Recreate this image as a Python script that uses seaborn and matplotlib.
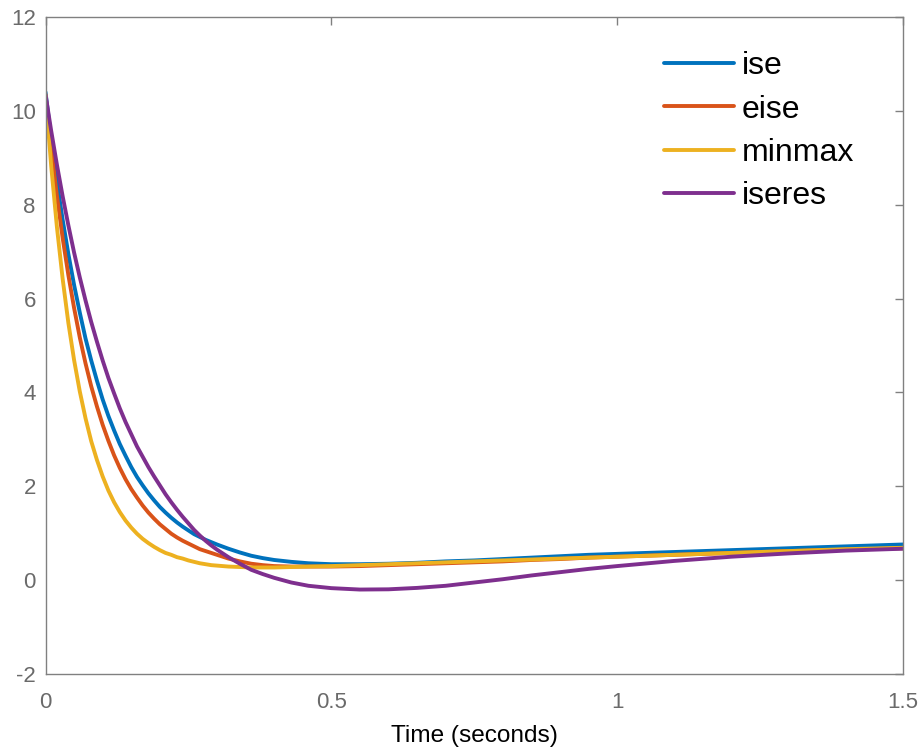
import numpy as np
import pandas as pd
import matplotlib
matplotlib.use("Agg")
import matplotlib.pyplot as plt
import seaborn as sns

# Sample times (seconds)
time = [0.00, 0.01, 0.02, 0.03, 0.04, 0.05, 0.06, 0.07, 0.08, 0.09,
        0.10, 0.11, 0.12, 0.13, 0.14, 0.15, 0.16, 0.17, 0.18, 0.19,
        0.20, 0.21, 0.22, 0.23, 0.24, 0.25, 0.26, 0.27, 0.28, 0.29,
        0.30, 0.32, 0.34, 0.36, 0.38, 0.40, 0.43, 0.46, 0.50,
        0.55, 0.60, 0.65, 0.70, 0.75, 0.80, 0.85, 0.90, 0.95, 1.00,
        1.10, 1.20, 1.30, 1.40, 1.50]

# Responses for each tuning criterion
ise = [10.40, 9.40, 8.49, 7.68, 6.95, 6.29, 5.70, 5.15, 4.68, 4.25,
       3.85, 3.50, 3.19, 2.90, 2.65, 2.41, 2.20, 2.02, 1.85, 1.70,
       1.56, 1.44, 1.33, 1.23, 1.14, 1.06, 0.98, 0.92, 0.86, 0.81,
       0.76, 0.67, 0.59, 0.52, 0.47, 0.43, 0.39, 0.36, 0.34,
       0.34, 0.35, 0.37, 0.40, 0.42, 0.45, 0.48, 0.51, 0.54, 0.56,
       0.60, 0.64, 0.68, 0.72, 0.76]
eise = [10.33, 9.19, 8.19, 7.29, 6.50, 5.80, 5.17, 4.62, 4.13, 3.70,
        3.31, 2.97, 2.66, 2.39, 2.15, 1.94, 1.76, 1.59, 1.44, 1.31,
        1.19, 1.09, 0.99, 0.91, 0.84, 0.78, 0.72, 0.66, 0.62, 0.58,
        0.54, 0.46, 0.40, 0.35, 0.32, 0.30, 0.29, 0.29, 0.29,
        0.30, 0.32, 0.34, 0.36, 0.38, 0.40, 0.43, 0.45, 0.48, 0.50,
        0.54, 0.58, 0.62, 0.65, 0.68]
minmax = [10.35, 8.82, 7.52, 6.42, 5.48, 4.69, 4.02, 3.45, 2.96, 2.56,
          2.21, 1.91, 1.66, 1.45, 1.27, 1.12, 0.99, 0.88, 0.79, 0.71,
          0.64, 0.58, 0.54, 0.49, 0.46, 0.42, 0.39, 0.36, 0.34, 0.32,
          0.31, 0.29, 0.28, 0.27, 0.27, 0.27, 0.28, 0.29, 0.30,
          0.32, 0.34, 0.36, 0.38, 0.40, 0.42, 0.44, 0.46, 0.48, 0.50,
          0.54, 0.58, 0.62, 0.66, 0.69]
iseres = [10.35, 9.57, 8.85, 8.18, 7.56, 6.98, 6.45, 5.96, 5.50, 5.08,
          4.68, 4.31, 3.98, 3.66, 3.37, 3.11, 2.85, 2.63, 2.41, 2.21,
          2.02, 1.83, 1.66, 1.50, 1.35, 1.21, 1.07, 0.95, 0.84, 0.74,
          0.65, 0.49, 0.35, 0.22, 0.13, 0.05, -0.05, -0.12, -0.17,
          -0.20, -0.195, -0.165, -0.12, -0.05, 0.02, 0.10, 0.17, 0.24, 0.30,
          0.41, 0.50, 0.57, 0.63, 0.67]

series_names = ["ise", "eise", "minmax", "iseres"]
series_colors = ["#0072BD", "#D95319", "#EDB120", "#7E2F8E"]

x_ticks = [0, 0.5, 1, 1.5]
x_tick_labels = ["0", "0.5", "1", "1.5"]
y_ticks = [-2, 0, 2, 4, 6, 8, 10, 12]
y_tick_labels = ["-2", "0", "2", "4", "6", "8", "10", "12"]

frames = []
for name, vals in zip(series_names, [ise, eise, minmax, iseres]):
    frames.append(pd.DataFrame({"time": time, "value": vals, "method": name}))
df = pd.concat(frames, ignore_index=True)

sns.set_theme(style="white")
plt.rcParams["font.family"] = ["Liberation Sans", "DejaVu Sans"]
plt.rcParams["axes.unicode_minus"] = False

fig = plt.figure(figsize=(9.23, 7.48), dpi=100)
ax = fig.add_axes([0.0493, 0.0989, 0.929, 0.8784])

sns.lineplot(data=df, x="time", y="value", hue="method",
             hue_order=series_names, palette=series_colors,
             estimator=None, sort=False, linewidth=2.8, ax=ax)

ax.set_xlim(0, 1.5)
ax.set_ylim(-2, 12)
ax.set_xticks(x_ticks)
ax.set_xticklabels(x_tick_labels)
ax.set_yticks(y_ticks)
ax.set_yticklabels(y_tick_labels)

spine_gray = "#808080"
for s in ax.spines.values():
    s.set_color(spine_gray)
    s.set_linewidth(1.0)
ax.tick_params(axis="both", direction="in", length=6, width=1.0,
               color=spine_gray, labelcolor="#6a6a6a", labelsize=16,
               top=True, right=True)
ax.tick_params(axis="x", pad=13)
ax.tick_params(axis="y", pad=7)

ax.set_xlabel("Time (seconds)", fontsize=17.6, color="black", labelpad=8.5)
ax.set_ylabel("")

handles, labels = ax.get_legend_handles_labels()
leg = ax.legend(handles, labels, loc="upper left", bbox_to_anchor=(0.721, 0.948),
                frameon=False, fontsize=23, handlelength=2.2, handletextpad=0.25,
                labelspacing=0.42, borderpad=0, borderaxespad=0)
for t in leg.get_texts():
    t.set_color("black")

fig.savefig("out.png", dpi=100)
